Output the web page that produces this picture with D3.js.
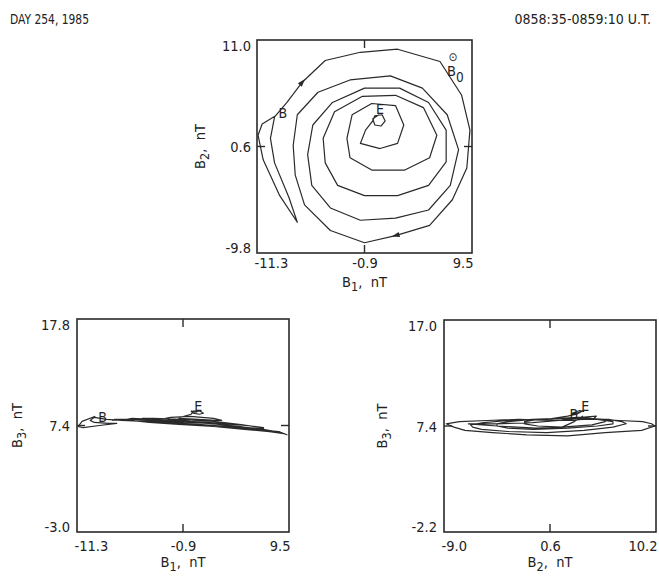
<!DOCTYPE html>
<html><head><meta charset="utf-8">
<script src="https://cdn.jsdelivr.net/npm/d3@7"></script>
<style>
body{margin:0;background:#fff;}
svg text{font-family:"DejaVu Sans Condensed","DejaVu Sans",sans-serif;fill:#222;}
</style></head><body>
<svg id="c" width="659" height="580"></svg>
<script>
// Hodogram samples (nT), in time order from B (begin) to E (end)
const b1 = [-9.5,-10.8,-11.2,-10.7,-9.1,-7.4,-8.2,-9.6,-10.0,-9.6,-8.4,-6.9,-4.7,-1.3,2.3,6.4,8.5,9.3,9.0,7.6,5.4,2.1,-0.9,-4.2,-6.7,-7.6,-7.8,-7.4,-5.4,-2.3,1.6,4.7,7.1,8.2,7.4,5.3,2.1,-1.3,-4.2,-6.0,-6.4,-5.9,-4.0,-0.9,2.5,5.3,7.0,7.0,5.3,2.3,-0.9,-3.5,-4.7,-4.9,-3.8,-1.1,2.1,4.8,6.1,5.4,3.0,-0.2,-2.3,-2.6,-2.1,-0.2,2.1,2.9,2.3,0.6,-1.3,-0.8,-0.1,0.1,0.8,1.1,0.7,0.1,-0.1,0.5];
const b2 = [3.6,2.8,1.7,-0.7,-4.2,-6.8,-4.4,-1.0,1.4,3.5,4.9,6.9,9.0,9.8,10.1,8.9,5.6,2.2,-1.5,-4.6,-7.1,-8.1,-8.8,-7.6,-5.1,-2.2,0.7,3.7,5.9,7.1,7.5,6.3,3.7,0.3,-3.2,-5.6,-6.4,-6.6,-5.4,-3.2,-0.2,2.7,4.9,6.3,6.3,4.9,2.2,-0.9,-3.2,-4.2,-4.2,-3.2,-1.0,1.4,4.0,5.5,5.6,4.4,1.7,-0.5,-1.7,-1.7,-0.5,1.4,3.7,4.8,4.6,2.7,0.9,0.4,0.9,2.2,3.1,3.6,3.7,3.1,2.6,2.7,3.3,3.7];
const b3 = [8.3,7.8,7.3,7.2,7.4,7.6,7.6,7.7,7.9,8.2,8.0,7.9,7.8,7.6,7.4,7.0,6.8,6.5,6.6,6.8,7.0,7.3,7.6,7.8,7.9,8.0,7.9,8.0,8.0,7.8,7.6,7.3,7.0,6.8,6.9,7.1,7.3,7.5,7.7,7.9,8.0,8.1,8.0,7.8,7.6,7.4,7.2,7.1,7.2,7.4,7.6,7.8,8.0,8.1,8.1,8.0,7.8,7.5,7.3,7.4,7.6,7.8,8.0,8.1,8.2,8.3,8.1,7.9,7.9,8.0,8.1,8.3,8.5,8.8,8.8,8.6,8.5,8.6,8.8,8.7];
const arrowIdx = [11, 21];
// Axis ticks (min, mid, max)
const b1Ticks = [-11.3, -0.9, 9.5];
const b2TicksV = [-9.8, 0.6, 11.0];
const b2TicksH = [-9.0, 0.6, 10.2];
const b3TicksL = [-3.0, 7.4, 17.8];
const b3TicksR = [-2.2, 7.4, 17.0];
const headerLeft = "DAY 254, 1985";
const headerRight = "0858:35-0859:10 U.T.";

const FONT = '"DejaVu Sans Condensed","DejaVu Sans",sans-serif';
const INK = '#2a2a2a';
const svg = d3.select('#c');
const fmt = d => d.toFixed(1);

svg.append('text').attr('x',10).attr('y',24).attr('font-size',14)
  .attr('textLength',79).attr('lengthAdjust','spacingAndGlyphs').text(headerLeft);
svg.append('text').attr('x',651).attr('y',24).attr('font-size',14).attr('text-anchor','end').text(headerRight);

function subLabel(sel, letter, sub){
  sel.append('tspan').text(letter);
  sel.append('tspan').attr('dy',4).attr('font-size',12.5).text(sub);
  sel.append('tspan').attr('dy',-4).attr('xml:space','preserve').text(',  nT');
}

function drawPanel(c){
  const xs = d3.scaleLinear().domain([c.xTicks[0], c.xTicks[2]]).range([c.x0, c.x1]);
  const ys = d3.scaleLinear().domain([c.yTicks[0], c.yTicks[2]]).range([c.y1, c.y0]);
  const g = svg.append('g');
  const pts = c.xv.map((v,i)=>[v, c.yv[i]]);
  g.append('path')
    .attr('d', d3.line().x(d=>xs(d[0])).y(d=>ys(d[1]))(pts))
    .attr('fill','none').attr('stroke',INK).attr('stroke-width',1.2).attr('stroke-linejoin','round');
  g.append('rect').attr('x',c.x0).attr('y',c.y0).attr('width',c.x1-c.x0).attr('height',c.y1-c.y0)
    .attr('fill','none').attr('stroke',INK).attr('stroke-width',1.6);
  const xm = xs(c.xTicks[1]), ym = ys(c.yTicks[1]);
  [[xm,c.y0,xm,c.y0+8],[xm,c.y1,xm,c.y1-8],[c.x0,ym,c.x0+8,ym],[c.x1,ym,c.x1-8,ym]].forEach(l=>{
    g.append('line').attr('x1',l[0]).attr('y1',l[1]).attr('x2',l[2]).attr('y2',l[3]).attr('stroke',INK).attr('stroke-width',1.4);
  });
  const ax = g.append('g').attr('transform',`translate(0,${c.y1})`)
    .call(d3.axisBottom(xs).tickValues(c.xTicks).tickFormat(fmt).tickSize(0).tickPadding(c.xPad));
  ax.select('.domain').remove();
  ax.attr('font-family',FONT).attr('font-size',14.5).style('color','#222');
  ax.selectAll('text').attr('text-anchor',(d,i)=> i===0?'start':(i===2?'end':'middle'))
    .attr('dx',(d,i)=> i===0?'-3':(i===2?'1':'0'));
  const ay = g.append('g').attr('transform',`translate(${c.x0},0)`)
    .call(d3.axisLeft(ys).tickValues(c.yTicks).tickFormat(fmt).tickSize(0).tickPadding(c.yPad));
  ay.select('.domain').remove();
  ay.attr('font-family',FONT).attr('font-size',14.5).style('color','#222');
  ay.selectAll('text').attr('dy',(d,i)=> i===0?'-0.02em':(i===2?'0.72em':'0.36em'));
  const xt = g.append('text').attr('x',xm).attr('y',c.y1+c.xTitleOff).attr('text-anchor','middle').attr('font-size',14.5);
  subLabel(xt, 'B', c.xSub);
  const yt = g.append('text').attr('transform',`translate(${c.yTitleX},${(c.y0+c.y1)/2}) rotate(-90)`)
    .attr('text-anchor','middle').attr('font-size',14.5);
  subLabel(yt, 'B', c.ySub);
  const n = pts.length - 1;
  const bx = xs(pts[0][0]), by = ys(pts[0][1]);
  g.append('text').attr('x',bx + c.bOff[0]).attr('y',by + c.bOff[1]).attr('font-size',14)
    .attr('text-anchor',c.bOff[0] < 0 ? 'end' : 'start').attr('dy','0.35em').text('B');
  g.append('text').attr('x',xs(pts[n][0])+1).attr('y',ys(pts[n][1])-1).attr('font-size',14).attr('text-anchor','middle').text('E');
  return {xs, ys, g, pts};
}

const topPanel = drawPanel({x0:257,x1:472,y0:40,y1:253,xv:b1,yv:b2,xTicks:b1Ticks,yTicks:b2TicksV,xSub:'1',ySub:'2',xPad:5,yPad:6,xTitleOff:34,yTitleX:205,bOff:[3,-3]});
drawPanel({x0:77,x1:289,y0:319,y1:532,xv:b1,yv:b3,xTicks:b1Ticks,yTicks:b3TicksL,xSub:'1',ySub:'3',xPad:9,yPad:7,xTitleOff:35,yTitleX:22,bOff:[3,1]});
drawPanel({x0:444,x1:656,y0:320,y1:532,xv:b2,yv:b3,xTicks:b2TicksH,yTicks:b3TicksR,xSub:'2',ySub:'3',xPad:9,yPad:7,xTitleOff:35,yTitleX:387,bOff:[-5,-2]});

arrowIdx.forEach(i=>{
  const p0 = topPanel.pts[i-1], p1 = topPanel.pts[i], p2 = topPanel.pts[i+1];
  const x = topPanel.xs(p1[0]), y = topPanel.ys(p1[1]);
  const ang = Math.atan2(topPanel.ys(p2[1])-topPanel.ys(p0[1]), topPanel.xs(p2[0])-topPanel.xs(p0[0])) * 180/Math.PI;
  topPanel.g.append('path').attr('d','M4,0 L-4,-2.6 L-4,2.6 Z').attr('fill',INK)
    .attr('transform',`translate(${x},${y}) rotate(${ang})`);
});

svg.append('text').attr('x',453).attr('y',61).attr('text-anchor','middle').attr('font-size',12).text('\u2299');
const b0 = svg.append('text').attr('x',447).attr('y',76).attr('font-size',14.5);
b0.append('tspan').text('B');
b0.append('tspan').attr('dy',6).attr('font-size',13.5).text('0');
</script>
</body></html>
